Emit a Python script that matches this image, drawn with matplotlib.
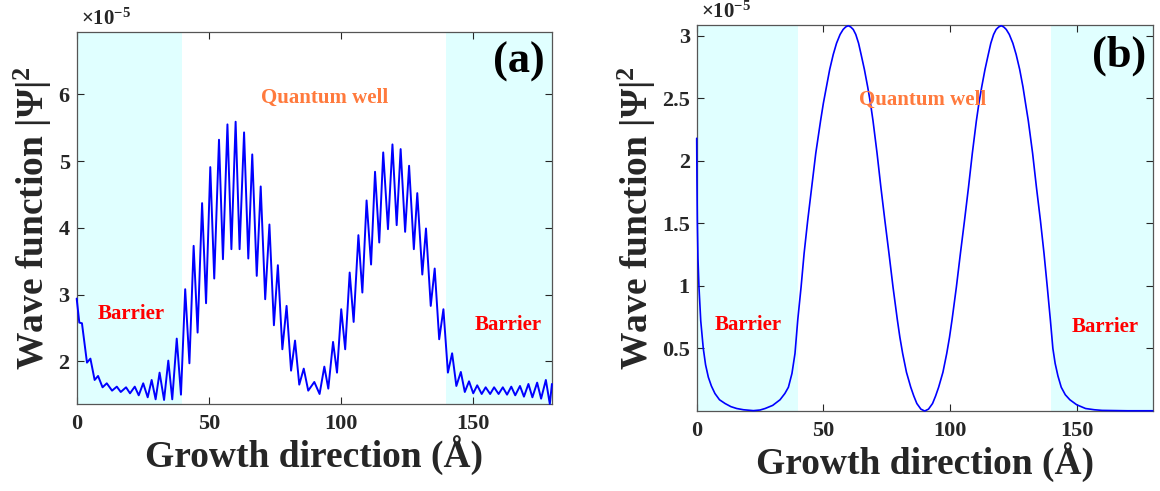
import matplotlib
matplotlib.use('Agg')  # backend sem janela
import matplotlib.pyplot as plt
from matplotlib.ticker import FuncFormatter

plt.rcParams['font.family'] = ['Liberation Serif', 'DejaVu Serif']
plt.rcParams['font.weight'] = 'bold'
plt.rcParams['mathtext.fontset'] = 'custom'
plt.rcParams['mathtext.rm'] = 'Liberation Serif:bold'
plt.rcParams['mathtext.bf'] = 'Liberation Serif:bold'
plt.rcParams['mathtext.it'] = 'Liberation Serif:bold'

# regioes de barreira (Angstrom)
barrier_spans = [(0, 40), (140, 180)]

# painel (a): |psi|^2 em unidades de 1e-5 (picos e vales)
pos_a = [0.0, 1.0, 2.0, 3.9, 5.2, 6.8, 8.1, 9.8, 11.4, 13.4, 15.2, 16.7, 18.7, 20.2,
         22.0, 23.5, 25.2, 26.9, 28.4, 29.9, 31.4, 33.1, 34.7, 36.2, 37.9, 39.5,
         41.1, 42.7, 44.3, 45.8, 47.5, 49.0, 50.6, 52.1, 53.9, 55.4, 57.1, 58.6,
         60.2, 61.7, 63.4, 65.0, 66.5, 68.2, 69.7, 71.4, 73.0, 74.7, 76.2, 77.9,
         79.5, 81.2, 82.7, 84.3, 86.0, 87.7, 90.0, 92.0, 93.8, 95.3, 97.1, 98.6,
         100.2, 101.7, 103.4, 104.9, 106.7, 108.2, 109.8, 111.5, 113.0, 114.6,
         116.1, 117.9, 119.6, 121.2, 122.7, 124.4, 125.9, 127.7, 129.0, 130.9,
         132.3, 134.1, 135.6, 137.3, 138.9, 140.6, 142.2, 143.8, 145.5, 147.0,
         148.6, 150.2, 151.7, 153.4, 154.9, 156.6, 158.1, 159.8, 161.4, 163.0,
         164.6, 166.1, 167.9, 169.4, 171.1, 172.6, 174.4, 175.9, 177.7, 179.2, 180.0]
psi_a = [2.94, 2.58, 2.57, 1.98, 2.04, 1.72, 1.78, 1.61, 1.67, 1.56, 1.62, 1.54, 1.61, 1.52,
         1.62, 1.49, 1.67, 1.46, 1.72, 1.43, 1.83, 1.42, 2.01, 1.43, 2.34, 1.50,
         3.08, 1.97, 3.73, 2.43, 4.37, 2.87, 4.91, 3.24, 5.32, 3.53, 5.55, 3.68,
         5.59, 3.68, 5.43, 3.54, 5.10, 3.28, 4.62, 2.93, 4.05, 2.54, 3.44, 2.18,
         2.83, 1.86, 2.31, 1.65, 1.89, 1.56, 1.69, 1.51, 1.92, 1.59, 2.29, 1.83,
         2.78, 2.18, 3.33, 2.59, 3.89, 3.03, 4.41, 3.45, 4.84, 3.78,
         5.13, 3.98, 5.25, 4.04, 5.18, 3.94, 4.93, 3.68, 4.52, 3.30,
         3.99, 2.83, 3.39, 2.33, 2.78, 1.83, 2.12, 1.63, 1.84, 1.54,
         1.70, 1.52, 1.64, 1.51, 1.61, 1.51, 1.61, 1.51, 1.61, 1.50,
         1.62, 1.49, 1.63, 1.47, 1.66, 1.46, 1.68, 1.44, 1.72, 1.36, 1.66]

# painel (b): |psi|^2 em unidades de 1e-5
pos_b = [0.0, 0.1, 0.25, 0.5, 0.9, 1.6, 2.6, 3.5, 4.6, 5.8, 7.2, 9.0, 11.2, 13.5,
         15.8, 18.5, 22.4, 25.0, 27.0, 30.0, 32.9, 34.8, 36.2, 37.6, 38.8, 39.9,
         41.2, 42.4, 43.8, 45.4, 47.0, 48.9, 50.0, 51.2, 52.5, 53.9, 55.2, 56.6,
         57.8, 58.8, 59.8, 60.8, 61.8, 62.8, 63.9, 64.9, 66.2, 67.5, 68.6, 69.6,
         71.2, 72.7, 74.3, 75.9, 77.5, 79.2, 80.2, 81.3, 82.8, 84.5, 85.7, 86.9,
         88.5, 90.0, 91.5, 93.1, 94.3, 95.5, 97.2, 98.7, 99.8, 100.8, 102.5, 104.1,
         105.7, 107.3, 108.8, 110.4, 111.4, 112.5, 113.8, 115.1, 116.1, 117.2,
         118.2, 119.2, 120.2, 121.2, 122.2, 123.4, 124.8, 126.1, 127.5, 128.8,
         129.8, 130.9, 132.6, 134.1, 135.7, 137.1, 138.4, 139.6, 140.6, 141.5,
         142.6, 143.9, 145.5, 147.3, 150.0, 153.5, 157.0, 160.0, 170.0, 180.0]
psi_b = [2.18, 1.85, 1.52, 1.22, 0.99, 0.72, 0.50, 0.37, 0.27, 0.20, 0.14, 0.09, 0.06, 0.035,
         0.02, 0.01, 0.003, 0.008, 0.02, 0.045, 0.09, 0.14, 0.19, 0.30, 0.46, 0.73,
         0.99, 1.26, 1.52, 1.79, 2.06, 2.32, 2.46, 2.59, 2.73, 2.85, 2.94, 3.01,
         3.05, 3.07, 3.08, 3.07, 3.05, 3.01, 2.94, 2.85, 2.73, 2.59, 2.46, 2.32,
         2.06, 1.79, 1.52, 1.26, 0.99, 0.73, 0.59, 0.46, 0.31, 0.19, 0.12, 0.06,
         0.015, 0.0, 0.015, 0.06, 0.12, 0.19, 0.31, 0.46, 0.59, 0.73, 0.99, 1.26,
         1.52, 1.79, 2.06, 2.32, 2.46, 2.59, 2.73, 2.85, 2.94, 3.01,
         3.05, 3.07, 3.08, 3.07, 3.05, 3.01, 2.94, 2.85, 2.73, 2.59,
         2.46, 2.32, 2.06, 1.79, 1.52, 1.26, 0.99, 0.73, 0.50, 0.38,
         0.28, 0.19, 0.13, 0.09, 0.05, 0.02, 0.01, 0.005, 0.002, 0.002]

xticks = [0, 50, 100, 150]
yticks_a = [2, 3, 4, 5, 6]
yticks_b = [0.5, 1, 1.5, 2, 2.5, 3]

CYAN = '#e0ffff'
AXCOL = '#262626'


def desenhar_painel(ax, pos, psi, ylim, yticks, letra, barrier_xy, well_xy, lw):
    for a, b in barrier_spans:
        ax.axvspan(a, b, color=CYAN, lw=0, zorder=0)
    ax.plot(pos, psi, color='#0000ff', lw=lw, solid_joinstyle='round',
            solid_capstyle='round', zorder=3, clip_on=False)
    ax.set_xlim(0, 180)
    ax.set_ylim(*ylim)
    ax.set_xticks(xticks)
    ax.set_yticks(yticks)
    ax.yaxis.set_major_formatter(FuncFormatter(lambda v, p: f'{v:g}'))
    ax.tick_params(direction='in', top=True, right=True, length=5, width=0.8,
                   labelsize=16, colors=AXCOL)
    ax.tick_params(axis='x', pad=7)
    ax.tick_params(axis='y', pad=5)
    for s in ax.spines.values():
        s.set_color('#555555')
        s.set_linewidth(0.9)
    ax.set_xlabel('Growth direction (Å)', fontsize=27, fontweight='bold',
                  color=AXCOL, labelpad=1)
    ax.set_ylabel('Wave function |Ψ|$^{2}$', fontsize=27, fontweight='bold',
                  color=AXCOL, labelpad=3)
    ax.text(0.985, 0.92, letra, transform=ax.transAxes, fontsize=32,
            fontweight='bold', ha='right', va='center', color='black')
    ax.text(0.01, 1.006, '×10$^{-5}$', transform=ax.transAxes, fontsize=15,
            ha='left', va='bottom', color=AXCOL)
    for x, y in barrier_xy:
        ax.text(x, y, 'Barrier', fontsize=15, fontweight='bold', color='#ff0000',
                ha='center', va='center')
    ax.text(well_xy[0], well_xy[1], 'Quantum well', fontsize=15, fontweight='bold',
            color='#ff7a3d', ha='center', va='center')


fig = plt.figure(figsize=(11.6, 4.91), dpi=100)
ax1 = fig.add_axes([0.0661, 0.1772, 0.4097, 0.757])
ax2 = fig.add_axes([0.6006, 0.1629, 0.3931, 0.786])

desenhar_painel(ax1, pos_a, psi_a, (1.36, 6.93), yticks_a, '(a)',
                [(20.6, 2.71), (163.5, 2.54)], (93.8, 5.94), 1.4)
desenhar_painel(ax2, pos_b, psi_b, (0, 3.085), yticks_b, '(b)',
                [(20.3, 0.69), (161.2, 0.67)], (89.3, 2.49), 1.2)

fig.savefig('out.png', dpi=100)
plt.close(fig)
